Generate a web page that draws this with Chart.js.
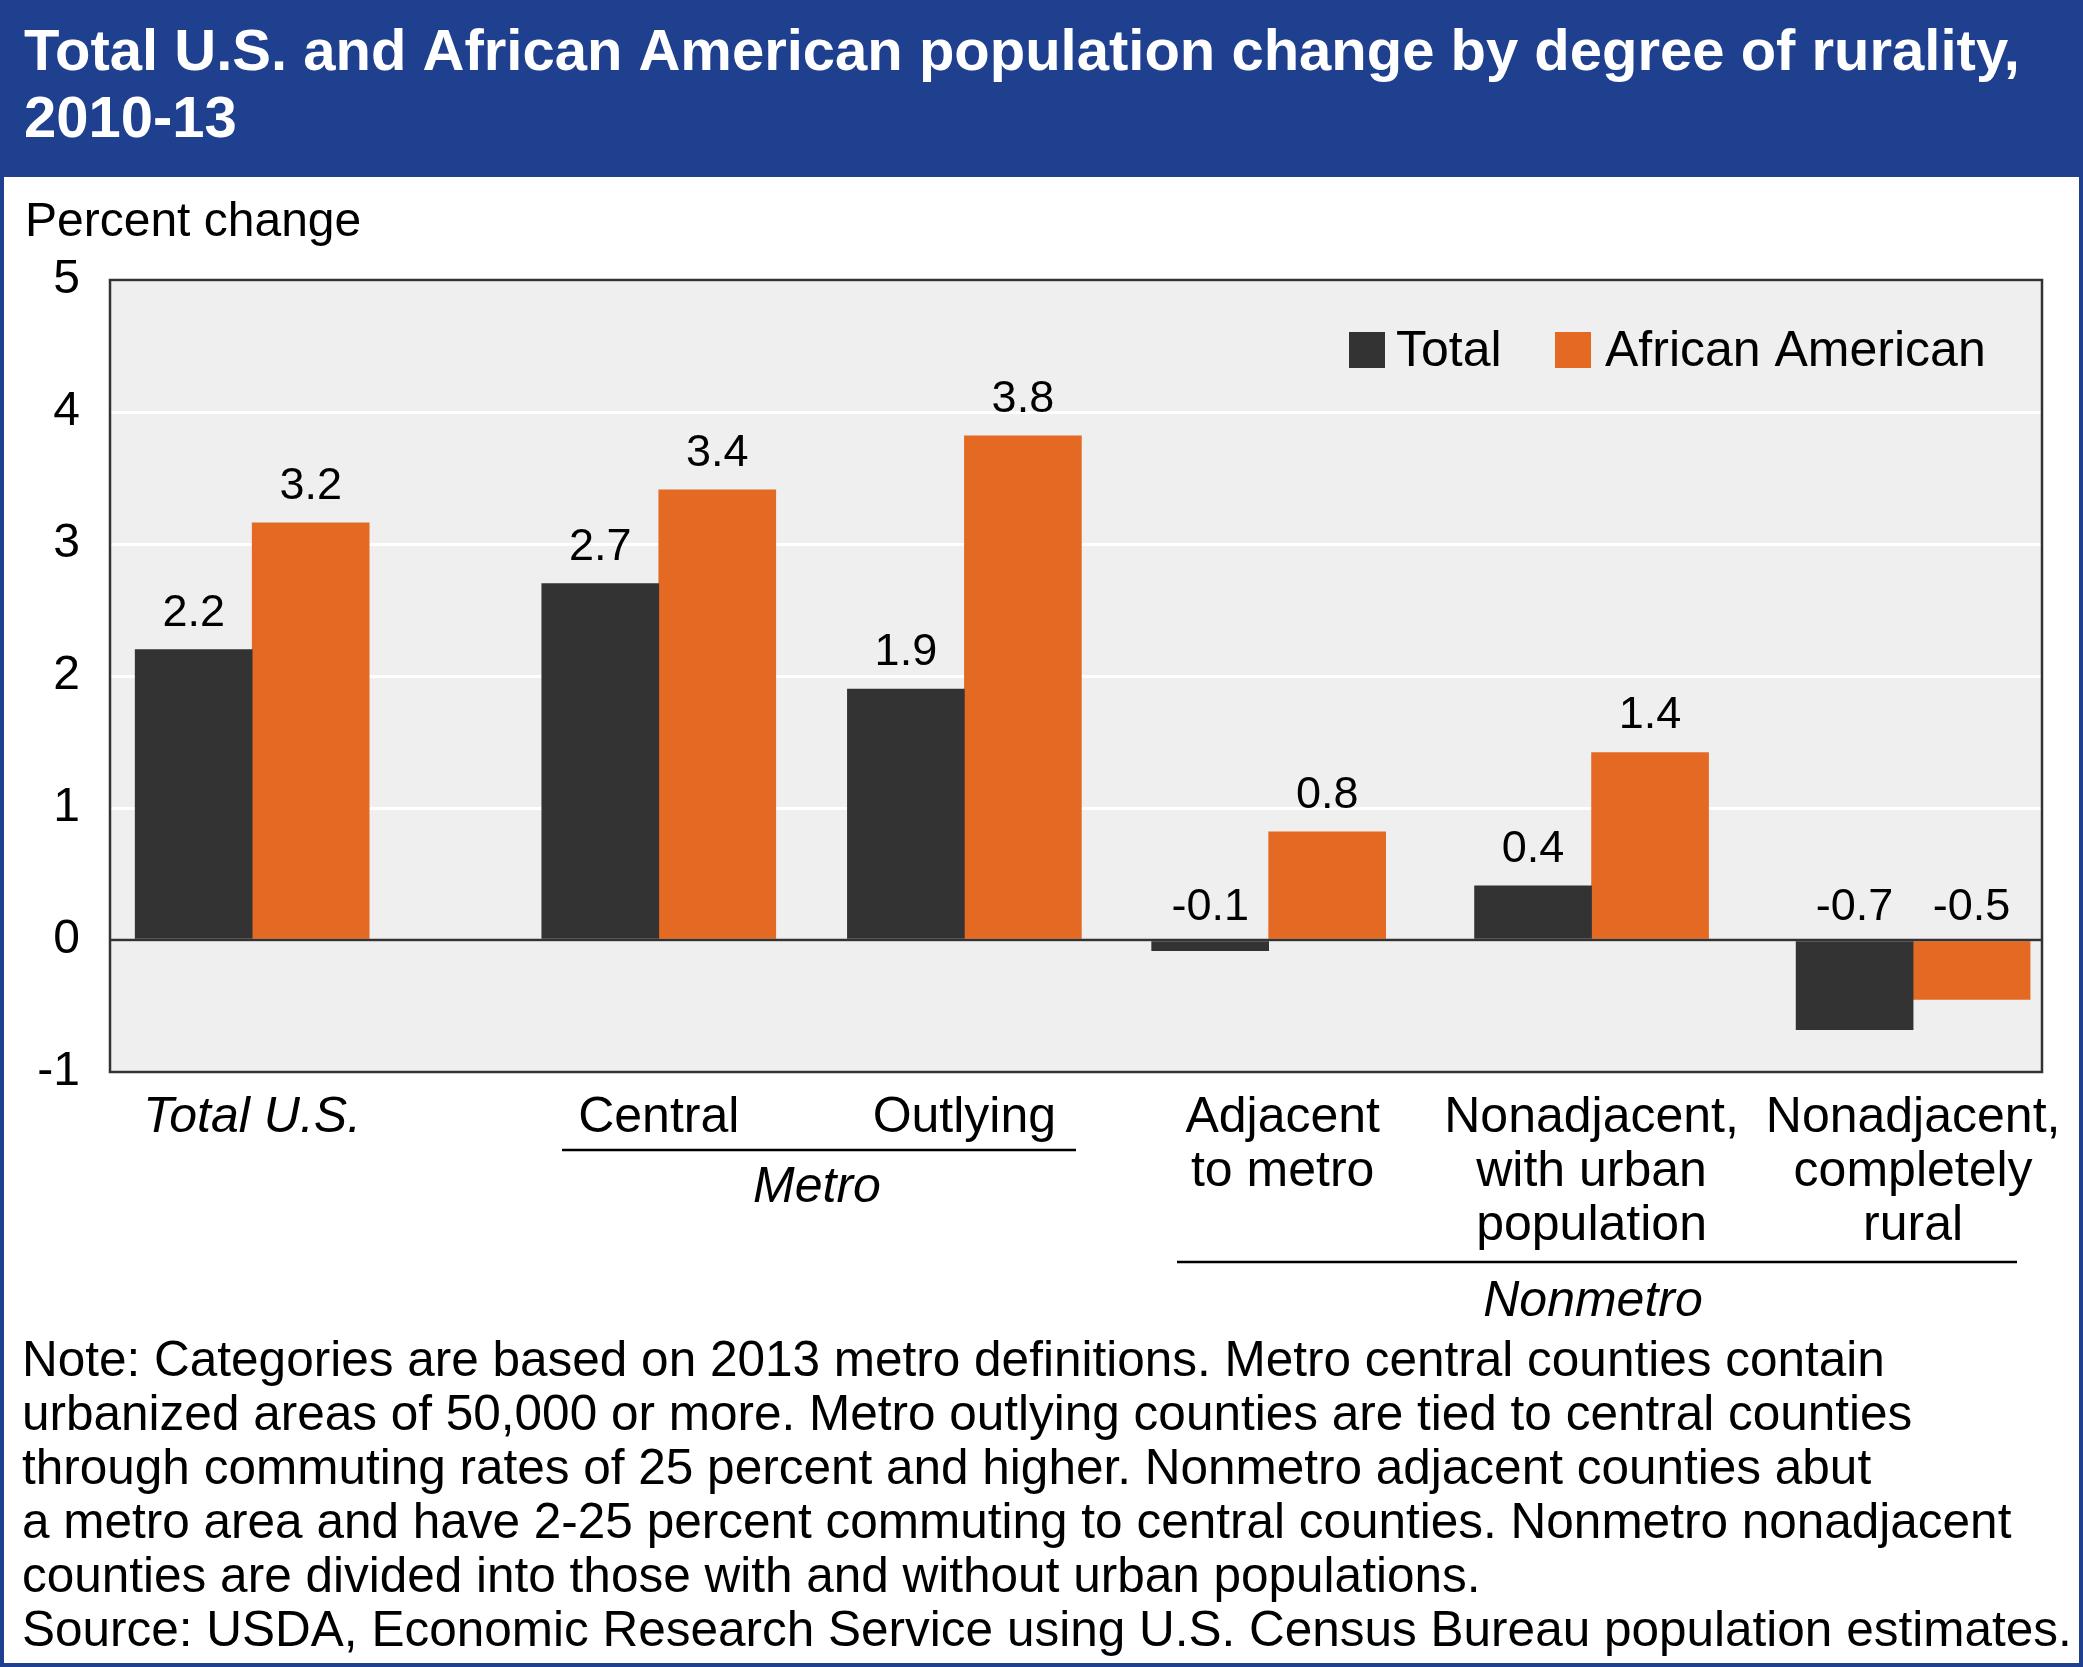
<!DOCTYPE html>
<html><head><meta charset="utf-8">
<script src="https://cdn.jsdelivr.net/npm/chart.js@4/dist/chart.umd.min.js"></script>
<style>html,body{margin:0;padding:0;background:#fff}#wrap{width:2083px;height:1667px;position:relative}</style>
</head><body><div id="wrap"><canvas id="c" width="2083" height="1667"></canvas></div>
<script>
const categories = [["Total U.S."],["Central"],["Outlying"],["Adjacent","to metro"],["Nonadjacent,","with urban","population"],["Nonadjacent,","completely","rural"]];
const slotX = [190, 496, 726, 955, 1198, 1440];
const totalValues = [2.2, 2.7, 1.9, -0.08, 0.41, -0.68];
const africanAmericanValues = [3.16, 3.41, 3.82, 0.82, 1.42, -0.45];
const yTicks = [-1, 0, 1, 2, 3, 4, 5];
const seriesNames = ["Total", "African American"];
const title = ["Total U.S. and African American population change by degree of rurality,", "2010-13"];
const note = ["Note: Categories are based on 2013 metro definitions. Metro central counties contain",
"urbanized areas of 50,000 or more. Metro outlying counties are tied to central counties",
"through commuting rates of 25 percent and higher. Nonmetro adjacent counties abut",
"a metro area and have 2-25 percent commuting to central counties. Nonmetro nonadjacent",
"counties are divided into those with and without urban populations.",
"Source: USDA, Economic Research Service using U.S. Census Bureau population estimates."];

const F = "'Liberation Sans', Arial, sans-serif";
const DARK = "#333333", ORANGE = "#e46a23", BLUE = "#1f3f8f";

const deco = {
  id: 'deco',
  beforeDraw(ch) {
    const c = ch.ctx, a = ch.chartArea;
    c.save();
    c.fillStyle = '#fff'; c.fillRect(0,0,2083,1667);
    c.fillStyle = '#efefef'; c.fillRect(a.left,a.top,a.right-a.left,a.bottom-a.top);
    c.restore();
  },
  afterDraw(ch) {
    const c = ch.ctx, a = ch.chartArea, xs = ch.scales.x, ys = ch.scales.y;
    c.save();
    c.strokeStyle = '#333'; c.lineWidth = 2.5;
    c.strokeRect(a.left, a.top, a.right-a.left, a.bottom-a.top);
    const y0 = ys.getPixelForValue(0);
    c.beginPath(); c.moveTo(a.left, y0); c.lineTo(a.right, y0); c.stroke();
    c.fillStyle = BLUE; c.fillRect(0,0,2083,177);
    c.fillStyle = '#fff'; c.font = "bold 58px " + F; c.textBaseline = 'middle'; c.textAlign = 'left';
    c.fillText(title[0], 24, 54); c.fillText(title[1], 24, 121);
    c.strokeStyle = BLUE; c.lineWidth = 4; c.strokeRect(2,2,2079,1663);
    c.fillStyle = '#000'; c.font = "48px " + F;
    c.fillText("Percent change", 25, 223);
    c.font = "45px " + F; c.textAlign = 'center'; c.textBaseline = 'bottom';
    ch.data.datasets.forEach((ds, di) => {
      ch.getDatasetMeta(di).data.forEach((bar, i) => {
        const v = ds.data[i].y;
        const yy = v >= 0 ? bar.y - 14 : y0 - 10;
        c.fillText(v.toFixed(1), bar.x, yy);
      });
    });
    c.textBaseline = 'middle'; c.textAlign = 'left'; c.font = "50px " + F;
    c.fillStyle = DARK; c.fillRect(1349, 332, 36, 36);
    c.fillStyle = '#000'; c.fillText(seriesNames[0], 1396, 352);
    c.fillStyle = ORANGE; c.fillRect(1555, 332, 36, 36);
    c.fillStyle = '#000'; c.fillText(seriesNames[1], 1605, 352);
    c.textAlign = 'center';
    categories.forEach((lines, i) => {
      const cx = xs.getPixelForValue(slotX[i]) + (i === 3 ? 14 : 0);
      c.font = (i === 0 ? "italic " : "") + "50px " + F;
      lines.forEach((t, k) => c.fillText(t, cx, 1118 + k*54));
    });
    c.strokeStyle = '#000'; c.lineWidth = 2.5;
    c.beginPath(); c.moveTo(562,1150); c.lineTo(1076,1150); c.stroke();
    c.beginPath(); c.moveTo(1177,1262); c.lineTo(2017,1262); c.stroke();
    c.font = "italic 50px " + F;
    c.fillText("Metro", 817, 1188);
    c.fillText("Nonmetro", 1593, 1302);
    c.textAlign = 'left'; c.font = "49.5px " + F;
    note.forEach((t, k) => c.fillText(t, 22, 1362 + k*54));
    c.restore();
  }
};

new Chart(document.getElementById('c'), {
  type: 'bar',
  data: {
    datasets: [
      { label: seriesNames[0], data: totalValues.map((v,i)=>({x:slotX[i], y:v})), backgroundColor: DARK },
      { label: seriesNames[1], data: africanAmericanValues.map((v,i)=>({x:slotX[i], y:v})), backgroundColor: ORANGE }
    ]
  },
  options: {
    responsive: false, animation: false, devicePixelRatio: 1,
    layout: { padding: { top: 280, bottom: 595, right: 41, left: 0 } },
    datasets: { bar: { barThickness: 117 } },
    plugins: { legend: { display: false }, tooltip: { enabled: false } },
    scales: {
      x: { type: 'linear', min: 83, max: 1537, offset: false, display: false },
      y: {
        min: -1, max: 5,
        afterFit: s => { s.width = 110; },
        afterBuildTicks: s => { s.ticks = yTicks.map(v => ({ value: v })); },
        border: { display: false },
        grid: { color: '#ffffff', lineWidth: 3, drawTicks: false },
        ticks: { color: '#000', font: { size: 48, family: F }, padding: 30 }
      }
    }
  },
  plugins: [deco]
});
</script></body></html>
